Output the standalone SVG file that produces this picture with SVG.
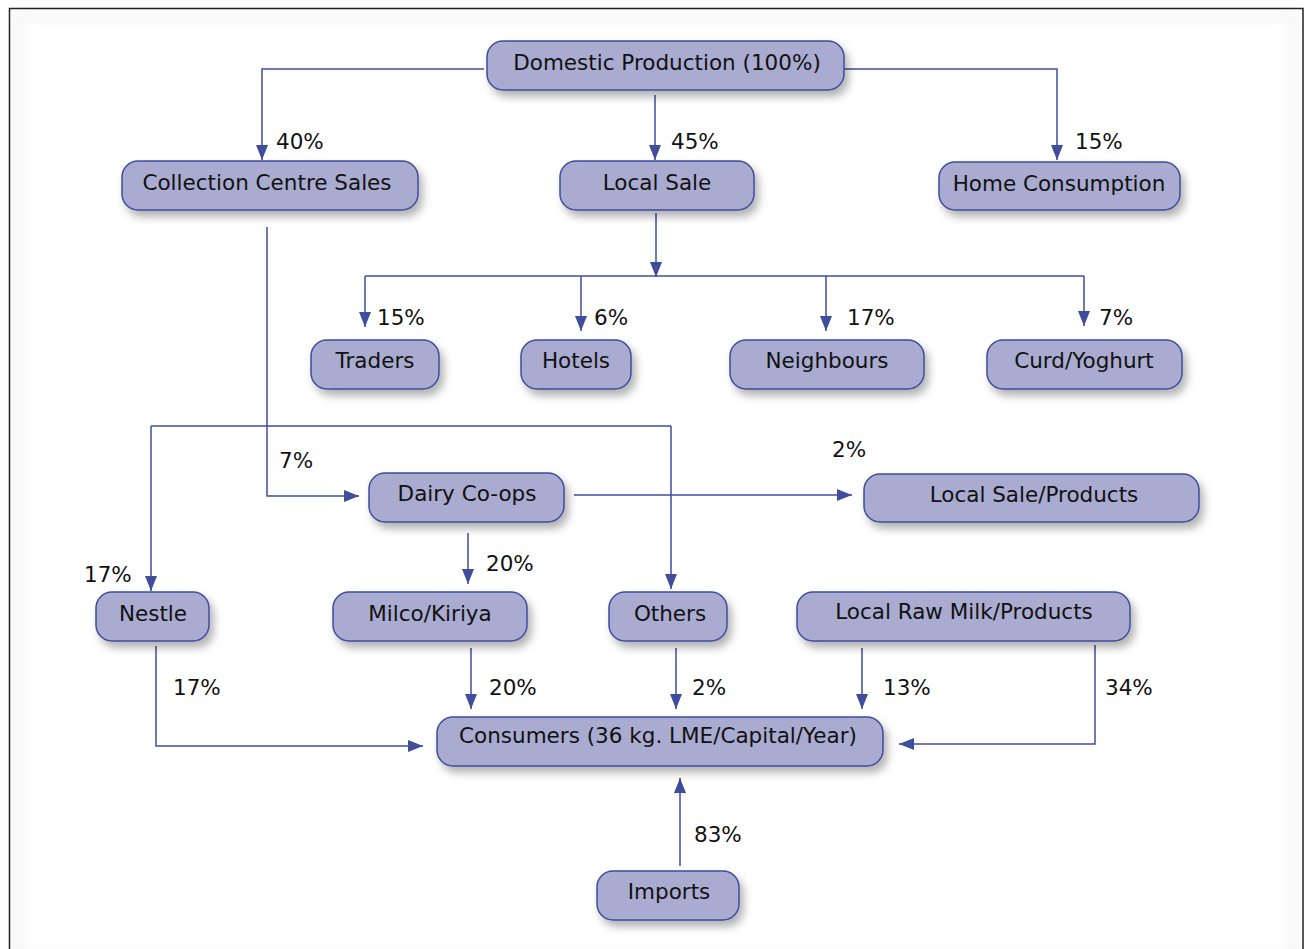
<svg xmlns="http://www.w3.org/2000/svg" width="1304" height="949" viewBox="0 0 1304 949">
  <defs>
    <style>
      .node rect { fill: #a9abd0; stroke: #3f4d9d; stroke-width: 1.5; filter: url(#shadow); }
      .node text { font-family: "DejaVu Sans", Verdana, sans-serif; font-size: 21.5px; fill: #111; text-anchor: middle; }
      .pct { font-family: "DejaVu Sans", Verdana, sans-serif; font-size: 21.5px; fill: #111; }
      .edges path { fill: none; stroke: #3f4d9d; stroke-width: 1.5; }
      .edges path.arr { marker-end: url(#arrow); }
    </style>
    <filter id="shadow" x="-20%" y="-40%" width="140%" height="190%">
      <feDropShadow dx="4" dy="6" stdDeviation="4" flood-color="#000" flood-opacity="0.3"/>
    </filter>
    <filter id="haze" x="-5%" y="-5%" width="110%" height="110%">
      <feGaussianBlur stdDeviation="6"/>
    </filter>
    <marker id="arrow" markerUnits="userSpaceOnUse" markerWidth="15" markerHeight="12" refX="15" refY="6" orient="auto">
      <path d="M0,0 L15,6 L0,12 z" fill="#3f4d9d"/>
    </marker>
  </defs>

  <!-- page frame -->
  <rect x="0" y="0" width="1304" height="949" fill="#ffffff"/>
  <rect x="18" y="16" width="1276" height="940" fill="none" stroke="#f4f4f4" stroke-width="8" filter="url(#haze)"/>
  <rect x="9.5" y="8.5" width="1293.5" height="960" fill="none" stroke="#222" stroke-width="1.5"/>

  <!-- connectors -->
  <g id="connectors" class="edges">
    <path class="arr" d="M484,69 H262 V160"/>
    <path class="arr" d="M655,95 V160"/>
    <path class="arr" d="M840,69 H1057 V160"/>
    <path class="arr" d="M656,213 V277"/>
    <path d="M365,276 H1084"/>
    <path class="arr" d="M365,276 V327"/>
    <path class="arr" d="M581,276 V331"/>
    <path class="arr" d="M826,276 V331"/>
    <path class="arr" d="M1084,276 V326"/>
    <path class="arr" d="M267,227 V496 H359"/>
    <path d="M151,426 H671"/>
    <path class="arr" d="M151,426 V591"/>
    <path class="arr" d="M671,426 V589"/>
    <path class="arr" d="M574,495 H852"/>
    <path class="arr" d="M468,533 V584"/>
    <path class="arr" d="M471,648 V709"/>
    <path class="arr" d="M156,646 V746 H423"/>
    <path class="arr" d="M676,648 V709"/>
    <path class="arr" d="M862,648 V709"/>
    <path class="arr" d="M1095,645 V744 H899"/>
    <path class="arr" d="M680,866 V778"/>
  </g>

  <!-- flow shares -->
  <g id="labels">
    <text class="pct" x="276" y="149">40%</text>
    <text class="pct" x="671" y="149">45%</text>
    <text class="pct" x="1075" y="149">15%</text>
    <text class="pct" x="377" y="325">15%</text>
    <text class="pct" x="594" y="325">6%</text>
    <text class="pct" x="847" y="325">17%</text>
    <text class="pct" x="1099" y="325">7%</text>
    <text class="pct" x="279" y="468">7%</text>
    <text class="pct" x="832" y="457">2%</text>
    <text class="pct" x="84" y="582">17%</text>
    <text class="pct" x="486" y="571">20%</text>
    <text class="pct" x="173" y="695">17%</text>
    <text class="pct" x="489" y="695">20%</text>
    <text class="pct" x="692" y="695">2%</text>
    <text class="pct" x="883" y="695">13%</text>
    <text class="pct" x="1105" y="695">34%</text>
    <text class="pct" x="694" y="842">83%</text>
  </g>

  <!-- nodes -->
  <g id="domestic-production" class="node">
    <rect x="487" y="41" width="357" height="49" rx="16"/>
    <text x="667" y="70">Domestic Production (100%)</text>
  </g>
  <g id="collection-centre-sales" class="node">
    <rect x="122" y="161" width="296" height="49" rx="16"/>
    <text x="267" y="190">Collection Centre Sales</text>
  </g>
  <g id="local-sale" class="node">
    <rect x="560" y="161" width="194" height="49" rx="16"/>
    <text x="657" y="190">Local Sale</text>
  </g>
  <g id="home-consumption" class="node">
    <rect x="939" y="162" width="241" height="48" rx="16"/>
    <text x="1059" y="191">Home Consumption</text>
  </g>
  <g id="traders" class="node">
    <rect x="311" y="340" width="128" height="49" rx="16"/>
    <text x="375" y="368">Traders</text>
  </g>
  <g id="hotels" class="node">
    <rect x="521" y="340" width="110" height="49" rx="16"/>
    <text x="576" y="368">Hotels</text>
  </g>
  <g id="neighbours" class="node">
    <rect x="730" y="340" width="194" height="49" rx="16"/>
    <text x="827" y="368">Neighbours</text>
  </g>
  <g id="curd-yoghurt" class="node">
    <rect x="987" y="340" width="195" height="49" rx="16"/>
    <text x="1084" y="368">Curd/Yoghurt</text>
  </g>
  <g id="dairy-co-ops" class="node">
    <rect x="369" y="473" width="195" height="49" rx="16"/>
    <text x="467" y="501">Dairy Co-ops</text>
  </g>
  <g id="local-sale-products" class="node">
    <rect x="864" y="474" width="335" height="48" rx="16"/>
    <text x="1034" y="502">Local Sale/Products</text>
  </g>
  <g id="nestle" class="node">
    <rect x="96" y="592" width="113" height="49" rx="16"/>
    <text x="153" y="621">Nestle</text>
  </g>
  <g id="milco-kiriya" class="node">
    <rect x="333" y="592" width="194" height="49" rx="16"/>
    <text x="430" y="621">Milco/Kiriya</text>
  </g>
  <g id="others" class="node">
    <rect x="609" y="592" width="118" height="49" rx="16"/>
    <text x="670" y="621">Others</text>
  </g>
  <g id="local-raw-milk-products" class="node">
    <rect x="797" y="592" width="333" height="49" rx="16"/>
    <text x="964" y="619">Local Raw Milk/Products</text>
  </g>
  <g id="consumers" class="node">
    <rect x="437" y="717" width="446" height="49" rx="16"/>
    <text x="658" y="743">Consumers (36 kg. LME/Capital/Year)</text>
  </g>
  <g id="imports" class="node">
    <rect x="597" y="871" width="142" height="49" rx="16"/>
    <text x="669" y="899">Imports</text>
  </g>
</svg>
